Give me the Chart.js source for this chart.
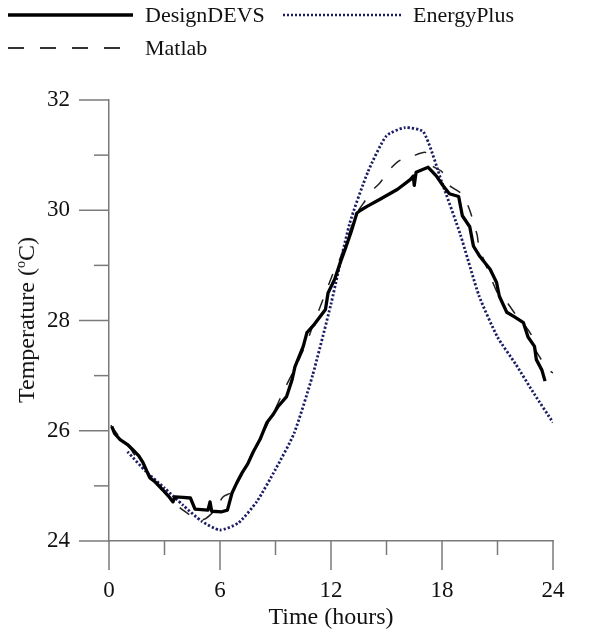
<!DOCTYPE html>
<html><head><meta charset="utf-8">
<script src="https://cdn.jsdelivr.net/npm/chart.js@4/dist/chart.umd.min.js"></script>
<style>
html,body{margin:0;padding:0;background:#fff;}
#wrap{position:relative;width:592px;height:635px;font-family:'Liberation Serif','Times New Roman',serif;color:#111;}
canvas{position:absolute;left:0;top:0;}
.lg{position:absolute;font-size:22px;line-height:22px;white-space:nowrap;}
#ytitle{position:absolute;left:26px;top:320px;transform:translate(-50%,-50%) rotate(-90deg);font-size:24px;line-height:24px;white-space:nowrap;}
#ytitle sup{font-size:14px;vertical-align:9px;line-height:0;}
</style></head><body>
<div id="wrap">
<canvas id="c" width="592" height="635"></canvas>
<svg width="592" height="70" style="position:absolute;left:0;top:0">
 <line x1="8" y1="15" x2="133" y2="15" stroke="#000" stroke-width="3.5"/>
 <line x1="283" y1="15" x2="402" y2="15" stroke="#1c1c66" stroke-width="2.5" stroke-dasharray="2 2"/>
 <line x1="8" y1="48" x2="128" y2="48" stroke="#333" stroke-width="2" stroke-dasharray="16 16"/>
</svg>
<div class="lg" id="lg0" style="left:145px;top:4px"></div>
<div class="lg" id="lg1" style="left:413px;top:4px"></div>
<div class="lg" id="lg2" style="left:145px;top:37px"></div>
<div id="ytitle">Temperature (<sup>o</sup>C)</div>
</div>
<script>
const seriesNames = ['DesignDEVS', 'EnergyPlus', 'Matlab'];

const devsHours = [0.15,0.3,0.6,1.0,1.3,1.6,1.84,2.2,2.5,2.9,3.2,3.46,3.57,4.0,4.4,4.65,5.0,5.35,5.46,5.55,6.1,6.4,6.65,6.9,7.2,7.5,7.8,8.16,8.54,8.86,9.14,9.6,9.9,10.05,10.5,10.7,11.1,11.7,11.84,12.2,12.5,12.76,13.1,13.4,13.6,13.95,14.65,15.6,16.3,16.45,16.5,16.6,17.25,17.5,17.7,18.05,18.4,18.9,19.1,19.5,19.7,20.05,20.6,20.95,21.1,21.5,21.9,22.4,22.65,23.0,23.1,23.4,23.57];
const devsTemps = [26.08,25.95,25.84,25.75,25.65,25.55,25.42,25.15,25.07,24.93,24.82,24.71,24.8,24.79,24.78,24.58,24.57,24.56,24.71,24.54,24.53,24.56,24.87,25.05,25.24,25.4,25.62,25.84,26.15,26.29,26.44,26.62,26.93,27.16,27.53,27.78,27.93,28.2,28.5,28.75,29.05,29.29,29.62,29.95,30.0,30.07,30.2,30.38,30.56,30.62,30.45,30.69,30.78,30.69,30.62,30.45,30.3,30.25,29.9,29.7,29.35,29.16,28.93,28.69,28.44,28.15,28.07,27.96,27.7,27.53,27.29,27.1,26.9];

const eplusHours = [1,2,3,4,5,6,7,8,9,10,11,12,13,14,15,16,17,18,19,20,21,22,23,24];
const eplusTemps = [25.62,25.26,24.96,24.65,24.36,24.2,24.33,24.72,25.3,25.95,27.0,28.3,29.75,30.7,31.35,31.5,31.42,30.5,29.55,28.45,27.7,27.2,26.66,26.15];

const matlabHours = [0.1,0.5,1.0,1.3,2.0,2.5,3.0,3.5,4.0,4.8,5.2,5.7,6.16,6.65,7.08,7.45,7.8,8.3,9.0,9.4,10.0,10.75,11.1,11.3,12.2,12.4,13.0,13.4,13.8,14.2,14.65,15.2,15.7,16.4,17.1,17.5,18.0,18.4,19.1,19.5,19.9,20.0,20.5,21.0,21.4,22.0,22.5,22.9,23.0,23.45,23.9,24.0];
const matlabTemps = [26.1,25.92,25.78,25.6,25.3,25.05,24.88,24.7,24.56,24.38,24.4,24.55,24.8,24.89,25.16,25.42,25.62,25.95,26.4,26.7,27.1,27.65,28.0,28.15,28.93,29.05,29.6,29.95,30.15,30.35,30.5,30.75,30.9,30.98,31.05,30.8,30.7,30.45,30.29,30.0,29.55,29.33,28.9,28.5,28.38,28.1,27.9,27.7,27.5,27.25,27.07,27.05];

const xTickStep = 3, xLabelStep = 6;
const yTickStep = 1, yLabelStep = 2;

seriesNames.forEach((n, i) => document.getElementById('lg' + i).textContent = n);

const toPts = (xs, ys) => xs.map((x, i) => ({x: x, y: ys[i]}));
const axisColor = '#7a7a7a';
const serif = "'Liberation Serif','Times New Roman',serif";

const tickPlugin = {
  id: 'customTicks',
  afterDraw(chart) {
    const ctx = chart.ctx, xs = chart.scales.x, ys = chart.scales.y;
    ctx.save();
    ctx.strokeStyle = axisColor;
    ctx.lineWidth = 1.5;
    xs.ticks.forEach(t => {
      const p = xs.getPixelForValue(t.value);
      const len = t.value % xLabelStep === 0 ? 29 : 14;
      ctx.beginPath(); ctx.moveTo(p, xs.top); ctx.lineTo(p, xs.top + len); ctx.stroke();
    });
    ys.ticks.forEach(t => {
      const p = ys.getPixelForValue(t.value);
      const len = t.value % yLabelStep === 0 ? 30 : 15;
      ctx.beginPath(); ctx.moveTo(ys.right, p); ctx.lineTo(ys.right - len, p); ctx.stroke();
    });
    ctx.restore();
  }
};

new Chart(document.getElementById('c'), {
  type: 'line',
  data: {
    datasets: [
      {label: seriesNames[0], data: toPts(devsHours, devsTemps), borderColor: '#000', borderWidth: 3.3, pointRadius: 0, tension: 0, fill: false, borderJoinStyle: 'round'},
      {label: seriesNames[1], data: toPts(eplusHours, eplusTemps), borderColor: '#1c1c66', borderWidth: 2.8, borderDash: [2.2, 2], pointRadius: 0, tension: 0.2, fill: false},
      {label: seriesNames[2], data: toPts(matlabHours, matlabTemps), borderColor: '#222', borderWidth: 1.5, borderDash: [12, 15], pointRadius: 0, tension: 0.2, fill: false}
    ]
  },
  options: {
    responsive: false,
    animation: false,
    devicePixelRatio: 1,
    layout: {padding: {top: 100, right: 39, left: 0, bottom: 0}},
    plugins: {legend: {display: false}, tooltip: {enabled: false}},
    scales: {
      x: {
        type: 'linear', min: 0, max: 24,
        afterFit: s => { s.height = 94; },
        grid: {drawOnChartArea: false, drawTicks: true, tickLength: 29, tickColor: 'rgba(0,0,0,0)'},
        border: {display: true, color: axisColor, width: 1.5},
        ticks: {stepSize: xTickStep, autoSkip: false, maxRotation: 0, padding: 7, color: '#111',
          font: {family: serif, size: 23},
          callback: v => (v % xLabelStep === 0 ? String(v) : '')},
        title: {display: true, text: 'Time (hours)', color: '#111', font: {family: serif, size: 24}, padding: {top: 0, bottom: 3}}
      },
      y: {
        type: 'linear', min: 24, max: 32,
        afterFit: s => { s.width = 109; },
        grid: {drawOnChartArea: false, drawTicks: true, tickLength: 30, tickColor: 'rgba(0,0,0,0)'},
        border: {display: true, color: axisColor, width: 1.5},
        ticks: {stepSize: yTickStep, autoSkip: false, padding: 9, color: '#111',
          font: {family: serif, size: 23},
          callback: v => (v % yLabelStep === 0 ? String(v) : '')}
      }
    }
  },
  plugins: [tickPlugin]
});
</script>
</body></html>
